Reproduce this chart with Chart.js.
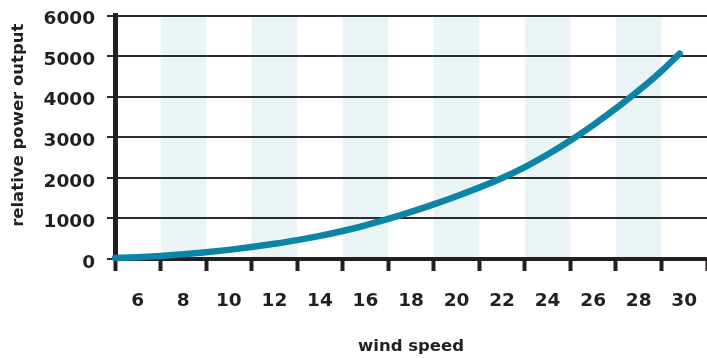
<!DOCTYPE html>
<html>
<head>
<meta charset="utf-8">
<script src="https://cdn.jsdelivr.net/npm/chart.js@4"></script>
<style>
	html, body { margin: 0; padding: 0; background: #fff; overflow: hidden; }
	#wrap { width: 707px; height: 358px; }
</style>
</head>
<body>
<div id="wrap"><canvas id="windChart"></canvas></div>
<script>
// data
const windSpeed = [5, 6, 7, 8, 9, 10, 11, 12, 13, 14, 15, 16, 17, 18, 19, 20, 21, 22, 23, 24, 25, 26, 27, 28, 29, 29.8];
const powerOutput = [25, 45, 75, 115, 165, 225, 295, 375, 465, 570, 690, 830, 990, 1160, 1345, 1545, 1760, 1995, 2265, 2575, 2920, 3300, 3710, 4150, 4630, 5060];
const xTickLabels = [6, 8, 10, 12, 14, 16, 18, 20, 22, 24, 26, 28, 30];
const shadedBands = [8, 12, 16, 20, 24, 28];
const yTicks = [0, 1000, 2000, 3000, 4000, 5000, 6000];
const yTitle = 'relative power output';

const ink = '#231f20';
const lineColor = '#0b84a5';
const bandColor = '#eaf4f7';
const tickFont = { family: 'DejaVu Sans', size: 18.5, weight: 'bold' };
const titleFont = { family: 'DejaVu Sans', size: 16.5, weight: 'bold' };

// light blue column behind every other wind speed label
const bandPlugin = {
	id: 'bands',
	beforeDraw(chart) {
		const { ctx, chartArea, scales: { x } } = chart;
		ctx.save();
		ctx.fillStyle = bandColor;
		shadedBands.forEach((c) => {
			const left = x.getPixelForValue(c - 1);
			const right = x.getPixelForValue(c + 1);
			ctx.fillRect(left, chartArea.top, right - left, chartArea.bottom - chartArea.top);
		});
		ctx.restore();
	},
	// y title sits a little above the plot's middle in the reference
	afterDraw(chart) {
		const { ctx, chartArea } = chart;
		ctx.save();
		ctx.translate(19, (chartArea.top + chartArea.bottom) / 2 - 12);
		ctx.rotate(-Math.PI / 2);
		ctx.font = `bold ${titleFont.size}px "${titleFont.family}"`;
		ctx.fillStyle = ink;
		ctx.textAlign = 'center';
		ctx.textBaseline = 'middle';
		ctx.fillText(yTitle, 0, 0);
		ctx.restore();
	},
};

const isOddInt = (v) => Number.isInteger(v) && Math.abs(v % 2) === 1;

new Chart(document.getElementById('windChart'), {
	type: 'line',
	data: {
		datasets: [{
			data: windSpeed.map((v, i) => ({ x: v, y: powerOutput[i] })),
			borderColor: lineColor,
			borderWidth: 6.5,
			borderCapStyle: 'round',
			borderJoinStyle: 'round',
			cubicInterpolationMode: 'monotone',
			pointRadius: 0,
			fill: false,
			clip: false,
		}],
	},
	options: {
		responsive: true,
		maintainAspectRatio: false,
		animation: false,
		layout: { padding: { top: 15.5, right: 0, bottom: 0, left: 0 } },
		plugins: { legend: { display: false }, tooltip: { enabled: false } },
		scales: {
			x: {
				type: 'linear',
				min: 5,
				max: 31,
				afterBuildTicks: (scale) => {
					const ticks = [];
					for (let v = 5; v <= 31; v++) ticks.push({ value: v });
					scale.ticks = ticks;
				},
				afterFit: (scale) => {
					scale.height = 99;
					scale.paddingLeft = 0;
					scale.paddingRight = 0;
				},
				border: { display: true, color: ink, width: 4 },
				grid: {
					drawOnChartArea: false,
					drawTicks: true,
					tickLength: 12,
					tickWidth: 4,
					tickColor: (ctx) => (ctx.tick && isOddInt(ctx.tick.value) ? ink : 'rgba(0,0,0,0)'),
				},
				ticks: {
					autoSkip: false,
					maxRotation: 0,
					padding: 19,
					color: ink,
					font: tickFont,
					callback: (value) => (xTickLabels.includes(value) ? String(value) : ''),
				},
				title: {
					display: true,
					text: 'wind speed',
					color: ink,
					font: titleFont,
					padding: { top: 0, bottom: 1 },
				},
			},
			y: {
				min: 0,
				max: 6000,
				afterBuildTicks: (scale) => { scale.ticks = yTicks.map((v) => ({ value: v })); },
				afterFit: (scale) => {
					scale.width = 115;
					scale.paddingTop = 0;
					scale.paddingBottom = 0;
				},
				border: { display: true, color: ink, width: 5 },
				grid: {
					color: '#2b2b2b',
					lineWidth: 2,
					drawTicks: true,
					tickLength: 8,
					tickColor: '#2b2b2b',
				},
				ticks: {
					padding: 12,
					labelOffset: 4,
					color: ink,
					font: tickFont,
					callback: (value) => String(value),
				},
				title: { display: false },
			},
		},
	},
	plugins: [bandPlugin],
});
</script>
</body>
</html>
